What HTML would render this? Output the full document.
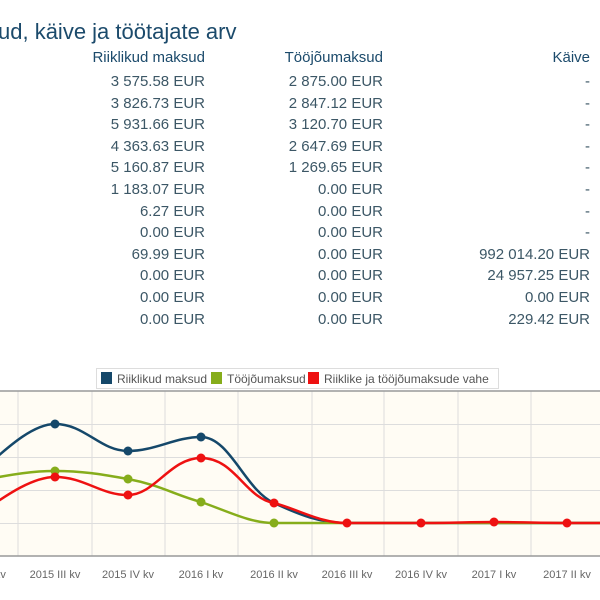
<!DOCTYPE html>
<html><head><meta charset="utf-8"><style>
body{margin:0;width:600px;height:600px;overflow:hidden;background:#fff;font-family:"Liberation Sans",sans-serif;position:relative}
.t{position:absolute;white-space:nowrap}
.h{color:#1b4a6b;font-size:15px}
.v{color:#3c5766;font-size:15px}
.r{text-align:right}
</style></head><body>
<div class="t" style="left:-2px;top:19px;font-size:22px;color:#1b4a6b">ud, käive ja töötajate arv</div>
<div class="t h r" style="right:395px;top:49px">Riiklikud maksud</div>
<div class="t h r" style="right:217px;top:49px">Tööjõumaksud</div>
<div class="t h r" style="right:10px;top:49px">Käive</div>
<svg class="t" style="left:0;top:0" width="600" height="600">
<rect x="96.5" y="368.5" width="402" height="20" fill="#fff" stroke="#ddd"/>
<rect x="101" y="372" width="11" height="12" fill="#15486a"/>
<text x="117" y="383" font-size="12" fill="#555">Riiklikud maksud</text>
<rect x="211" y="372" width="11" height="12" fill="#86ad1b"/>
<text x="227" y="383" font-size="12" fill="#555">Tööjõumaksud</text>
<rect x="308" y="372" width="11" height="12" fill="#ee1111"/>
<text x="324" y="383" font-size="12" fill="#555">Riiklike ja tööjõumaksude vahe</text>
<rect x="0" y="391" width="600" height="165" fill="#fffcf4"/>
<g stroke="#ddd" stroke-width="1">
<line x1="0" y1="424.5" x2="600" y2="424.5"/><line x1="0" y1="457.5" x2="600" y2="457.5"/>
<line x1="0" y1="490.5" x2="600" y2="490.5"/><line x1="0" y1="523.5" x2="600" y2="523.5"/>
<line x1="18" y1="391" x2="18" y2="556"/><line x1="92" y1="391" x2="92" y2="556"/>
<line x1="165" y1="391" x2="165" y2="556"/><line x1="238" y1="391" x2="238" y2="556"/>
<line x1="312" y1="391" x2="312" y2="556"/><line x1="384" y1="391" x2="384" y2="556"/>
<line x1="458" y1="391" x2="458" y2="556"/><line x1="531" y1="391" x2="531" y2="556"/>
</g>
<line x1="0" y1="391" x2="600" y2="391" stroke="#999" stroke-width="1.5"/>
<line x1="0" y1="556" x2="600" y2="556" stroke="#999" stroke-width="1.5"/>
<g fill="none" stroke-width="2.5">
<path d="M-18,470 C0,455 30,424 55,424 C85,424 100,451 128,451 C155,451 175,437 201,437 C230,437 245,490 274,503 C300,515 320,523 347,523 L600,523" stroke="#15486a"/>
<path d="M-18,480 C10,475 30,471 55,471 C85,471 105,475 128,479 C160,485 175,495 201,502 C230,512 250,523 274,523 L600,523" stroke="#86ad1b"/>
<path d="M-18,512 C0,500 30,477 55,477 C85,477 100,495 128,495 C155,495 170,458 201,458 C235,458 245,498 274,503 C300,510 320,523 347,523 L421,523 C450,523 470,522 494,522 C520,522 540,523 567,523 L600,523" stroke="#ee1111"/>
</g>
<g fill="#15486a"><circle cx="55" cy="424" r="4.5"/><circle cx="128" cy="451" r="4.5"/><circle cx="201" cy="437" r="4.5"/></g>
<g fill="#86ad1b"><circle cx="55" cy="471" r="4.5"/><circle cx="128" cy="479" r="4.5"/><circle cx="201" cy="502" r="4.5"/><circle cx="274" cy="523" r="4.5"/></g>
<g fill="#ee1111"><circle cx="55" cy="477" r="4.5"/><circle cx="128" cy="495" r="4.5"/><circle cx="201" cy="458" r="4.5"/><circle cx="274" cy="503" r="4.5"/><circle cx="347" cy="523" r="4.5"/><circle cx="421" cy="523" r="4.5"/><circle cx="494" cy="522" r="4.5"/><circle cx="567" cy="523" r="4.5"/></g>
<g font-size="11" fill="#666" text-anchor="middle">
<text x="-18" y="578">2015 II kv</text><text x="55" y="578">2015 III kv</text><text x="128" y="578">2015 IV kv</text>
<text x="201" y="578">2016 I kv</text><text x="274" y="578">2016 II kv</text><text x="347" y="578">2016 III kv</text>
<text x="421" y="578">2016 IV kv</text><text x="494" y="578">2017 I kv</text><text x="567" y="578">2017 II kv</text>
</g>
</svg>
<div class="t v r" style="right:395px;top:71px;line-height:21.6px">3 575.58 EUR<br>3 826.73 EUR<br>5 931.66 EUR<br>4 363.63 EUR<br>5 160.87 EUR<br>1 183.07 EUR<br>6.27 EUR<br>0.00 EUR<br>69.99 EUR<br>0.00 EUR<br>0.00 EUR<br>0.00 EUR</div>
<div class="t v r" style="right:217px;top:71px;line-height:21.6px">2 875.00 EUR<br>2 847.12 EUR<br>3 120.70 EUR<br>2 647.69 EUR<br>1 269.65 EUR<br>0.00 EUR<br>0.00 EUR<br>0.00 EUR<br>0.00 EUR<br>0.00 EUR<br>0.00 EUR<br>0.00 EUR</div>
<div class="t v r" style="right:10px;top:71px;line-height:21.6px">-<br>-<br>-<br>-<br>-<br>-<br>-<br>-<br>992 014.20 EUR<br>24 957.25 EUR<br>0.00 EUR<br>229.42 EUR</div>
</body></html>
